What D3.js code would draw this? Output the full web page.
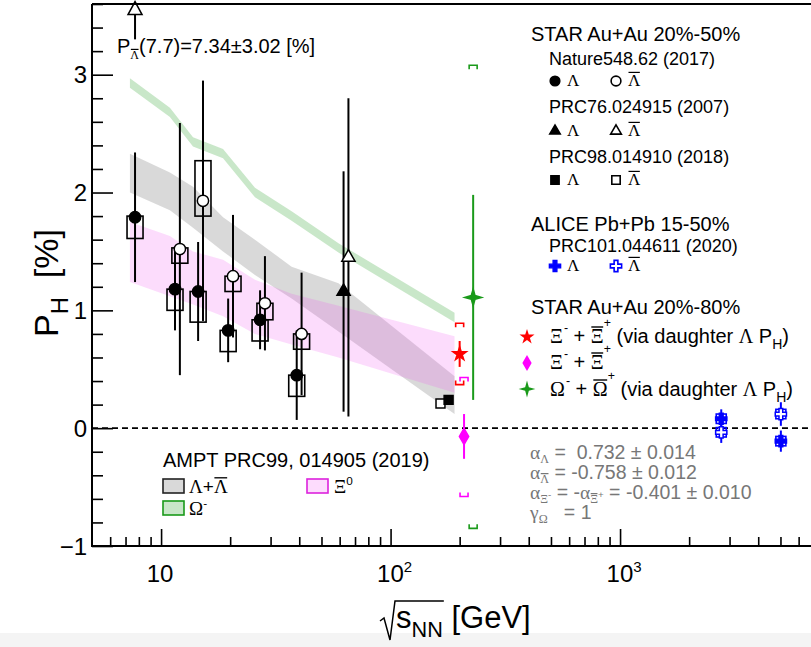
<!DOCTYPE html>
<html lang="en">
<head>
<meta charset="UTF-8">
<title>Hyperon global polarization</title>
<script src="https://cdn.jsdelivr.net/npm/d3@7"></script>
<style>
  body { margin: 0; background: #fff; }
  svg { display: block; font-family: "Liberation Sans", Arial, sans-serif; }
  text { white-space: pre; }
</style>
</head>
<body>
<svg id="chart" width="811" height="647"></svg>
<script>
// ---- data ----
// STAR Nature 548, 62 (2017), 20-50%
const natE = [7.7, 11.5, 14.5, 19.6, 27, 39]
const natLam = [1.79, 1.18, 1.16, 0.83, 0.92, 0.45]
const natLamErr = [0.55, 0.35, 0.42, 0.27, 0.25, 0.38]
const natLamSys = [[1.61, 1.80], [1.00, 1.18], [0.90, 1.16], [0.65, 0.83], [0.74, 0.92], [0.27, 0.45]]
const natBarE = [11.5, 14.5, 19.6, 27, 39]
const natBar = [1.52, 1.93, 1.29, 1.06, 0.80]
const natBarErr = [1.07, 1.02, 0.52, 0.40, 0.52]
const natBarSys = [[1.40, 1.53], [1.80, 2.27], [1.16, 1.29], [0.92, 1.06], [0.67, 0.80]]
// STAR PRC76 024915 (2007), 62.4 GeV
const prc76E = [62.4]
const prc76Lam = [1.16], prc76LamErr = [1.02]
const prc76Bar = [1.45], prc76BarErr = [1.35]
// STAR PRC98 014910 (2018), 200 GeV (drawn slightly left of 200)
const prc98LamE = [179], prc98Lam = [0.24], prc98LamErr = [0.02]
const prc98BarE = [165], prc98Bar = [0.21], prc98BarErr = [0.02]
// ALICE PRC101 044611 (2020)
const aliceE = [2760, 5020]
const aliceLam = [0.08, -0.11], aliceLamErr = [0.08, 0.09]
const aliceBar = [-0.035, 0.12], aliceBarErr = [0.09, 0.10]
const aliceSys = [0.04, 0.04]
// STAR 20-80% multistrange, 200 GeV
const xiE = [200], xi = [0.63], xiErr = [0.11], xiSys = [[0.37, 0.89]]
const xiDirE = [209], xiDir = [-0.07], xiDirErr = [0.19], xiDirSys = [[-0.58, 0.43]]
const omE = [229], om = [1.11], omErr = [0.87], omSys = [[-0.85, 3.08]]
// Lambda-bar 7.7 GeV, off scale
const bar77 = '7.34±3.02'
// AMPT bands
const amptE = [7.7, 11.5, 14.5, 19.6, 27, 39, 62.4, 200]
const amptLamLo = [2.00, 1.85, 1.70, 1.50, 1.30, 1.10, 0.82, 0.12]
const amptLamHi = [2.33, 2.17, 2.05, 1.79, 1.60, 1.37, 1.23, 0.44]
const amptXiLo = [1.24, 1.12, 1.05, 0.95, 0.80, 0.71, 0.60, 0.30]
const amptXiHi = [1.75, 1.63, 1.50, 1.43, 1.26, 1.14, 1.04, 0.78]
const amptOmLo = [2.89, 2.64, 2.39, 2.29, 1.96, 1.76, 1.49, 0.90]
const amptOmHi = [2.97, 2.72, 2.47, 2.37, 2.04, 1.84, 1.57, 0.98]

const xMajor = [10, 100, 1000]
const xMinor = [6, 7, 8, 9, 20, 30, 40, 50, 60, 70, 80, 90, 200, 300, 400, 500, 600, 700, 800, 900, 2000, 3000, 4000, 5000, 6000]
const yMajor = [-1, 0, 1, 2, 3]
const yMinor = d3.range(-0.8, 3.61, 0.2).filter(v => Math.abs(v - Math.round(v)) > 0.01)

// ---- setup ----
const svg = d3.select('#chart')
const x = d3.scaleLog().domain([5, 7000]).range([92, 814])
const y = d3.scaleLinear().domain([-1, 3.6]).range([546, 4])
const barShift = 1.05   // anti-lambda drawn a bit to the right
const bandShift = 0.95  // AMPT bands drawn a bit to the left
const serif = '"Liberation Serif", "DejaVu Serif", serif'

svg.append('rect').attr('x', 0).attr('y', 633).attr('width', 811).attr('height', 14).attr('fill', '#f4f4f4')

// rich text: parts are strings or {t, sub, sup, raise, bar, serif}
function rich(g, px, py, parts, size, fill = '#000', subDrop = 0.3) {
  const t = g.append('text').attr('x', px).attr('y', py).attr('font-size', size).attr('fill', fill)
    .attr('xml:space', 'preserve')
  let shift = 0, idx = 0
  const bars = []
  parts.forEach(p => {
    if (typeof p === 'string') p = { t: p }
    const small = p.sub || p.sup
    const fs = small ? size * (p.scale || 0.62) : size
    let target = p.sub ? size * subDrop : p.sup ? -size * 0.42 : 0
    if (p.raise !== undefined) target = -size * p.raise
    const ts = t.append('tspan').text(p.t).attr('dy', target - shift).attr('font-size', fs)
    if (p.serif) ts.attr('font-family', serif)
    if (p.dx) ts.attr('dx', p.dx)
    if (p.bar) bars.push({ i0: idx, n: p.t.length, base: py + target, fs })
    shift = target
    idx += p.t.length
  })
  bars.forEach(b => {
    const a = t.node().getExtentOfChar(b.i0)
    const z = t.node().getExtentOfChar(b.i0 + b.n - 1)
    g.append('line').attr('x1', a.x + 0.5).attr('x2', z.x + z.width - 0.5)
      .attr('y1', b.base - b.fs * 0.8).attr('y2', b.base - b.fs * 0.8)
      .attr('stroke', fill).attr('stroke-width', Math.max(1.2, b.fs * 0.07))
  })
  return t
}

const plot = svg.append('g')

// ---- AMPT bands ----
function band(lo, hi, fill) {
  const area = d3.area()
    .x((d, i) => x(amptE[i] * bandShift))
    .y0((d, i) => y(lo[i]))
    .y1((d, i) => y(hi[i]))
  plot.append('path').datum(amptE).attr('d', area).attr('fill', fill).attr('stroke', 'none')
}
band(amptOmLo, amptOmHi, 'rgba(60,170,60,0.28)')
band(amptLamLo, amptLamHi, 'rgba(110,110,110,0.26)')
band(amptXiLo, amptXiHi, 'rgba(240,80,240,0.2)')

// zero line
plot.append('line').attr('x1', 92).attr('x2', 811).attr('y1', y(0)).attr('y2', y(0))
  .attr('stroke', '#000').attr('stroke-width', 1.8).attr('stroke-dasharray', '6,4')

// ---- helpers ----
function errBars(E, V, Er, color, f = 1) {
  plot.selectAll(null).data(E).enter().append('line')
    .attr('x1', (d) => x(d * f)).attr('x2', d => x(d * f))
    .attr('y1', (d, i) => y(V[i] + Er[i])).attr('y2', (d, i) => y(V[i] - Er[i]))
    .attr('stroke', color).attr('stroke-width', 2)
}
function sysBoxes(E, S, color, f = 1, hw = 8) {
  plot.selectAll(null).data(E).enter().append('rect')
    .attr('x', d => x(d * f) - hw).attr('width', 2 * hw)
    .attr('y', (d, i) => y(S[i][1])).attr('height', (d, i) => y(S[i][0]) - y(S[i][1]))
    .attr('fill', 'none').attr('stroke', color).attr('stroke-width', 1.6)
}
function brackets(E, S, color) {
  E.forEach((e, i) => {
    const cx = x(e), yh = y(S[i][1]), yl = y(S[i][0])
    plot.append('path').attr('d', `M${cx - 4},${yh + 4}V${yh}H${cx + 4}V${yh + 4}M${cx - 4},${yl - 4}V${yl}H${cx + 4}V${yl - 4}`)
      .attr('fill', 'none').attr('stroke', color).attr('stroke-width', 1.6)
  })
}
function markers(g, E, V, type, size, fill, stroke, f = 1) {
  g.selectAll(null).data(E).enter().append('path')
    .attr('d', d3.symbol().type(type).size(size))
    .attr('transform', (d, i) => `translate(${x(d * f)},${y(V[i])})`)
    .attr('fill', fill).attr('stroke', stroke).attr('stroke-width', 1.5)
}
const star4 = {
  draw(ctx, size) {
    const r = Math.sqrt(size) * 0.8, q = r * 0.22
    ctx.moveTo(0, -r); ctx.lineTo(q, -q); ctx.lineTo(r, 0); ctx.lineTo(q, q)
    ctx.lineTo(0, r); ctx.lineTo(-q, q); ctx.lineTo(-r, 0); ctx.lineTo(-q, -q); ctx.closePath()
  }
}

// ---- STAR BES ----
errBars(natE, natLam, natLamErr, '#000')
errBars(natBarE, natBar, natBarErr, '#000', barShift)
sysBoxes(natE, natLamSys, '#000')
sysBoxes(natBarE, natBarSys, '#000', barShift)
markers(plot, natE, natLam, d3.symbolCircle, 100, '#000', '#000')
markers(plot, natBarE, natBar, d3.symbolCircle, 100, '#fff', '#000', barShift)

errBars(prc76E, prc76Lam, prc76LamErr, '#000')
errBars(prc76E, prc76Bar, prc76BarErr, '#000', barShift)
markers(plot, prc76E, prc76Lam, d3.symbolTriangle, 75, '#000', '#000')
markers(plot, prc76E, prc76Bar, d3.symbolTriangle, 75, '#fff', '#000', barShift)

errBars(prc98LamE, prc98Lam, prc98LamErr, '#000')
errBars(prc98BarE, prc98Bar, prc98BarErr, '#000')
markers(plot, prc98BarE, prc98Bar, d3.symbolSquare, 80, '#fff', '#000')
markers(plot, prc98LamE, prc98Lam, d3.symbolSquare, 80, '#000', '#000')

// anti-lambda 7.7 arrow (off scale)
const ax = x(natE[0])
plot.append('line').attr('x1', ax).attr('x2', ax).attr('y1', y(3.30)).attr('y2', y(3.51))
  .attr('stroke', '#000').attr('stroke-width', 2)
plot.append('path').attr('d', `M${ax - 7},${y(3.51)}L${ax + 7},${y(3.51)}L${ax},${y(3.51) - 13}Z`)
  .attr('fill', '#fff').attr('stroke', '#000').attr('stroke-width', 1.5)
rich(plot, 117, 53, ['P', { t: 'Λ', sub: true, bar: true, serif: true, scale: 0.6 }, '(7.7)=' + bar77 + ' [%]'], 20)

// ---- multistrange ----
errBars(omE, om, omErr, '#1a9a1a')
brackets(omE, omSys, '#1a9a1a')
markers(plot, omE, om, star4, 110, '#1a9a1a', '#1a9a1a')
errBars(xiDirE, xiDir, xiDirErr, '#ff00ff')
brackets(xiDirE, xiDirSys, '#ff00ff')
markers(plot, xiDirE, xiDir, d3.symbolDiamond, 75, '#ff00ff', '#ff00ff')
errBars(xiE, xi, xiErr, '#ff0000')
brackets(xiE, xiSys, '#ff0000')
markers(plot, xiE, xi, d3.symbolStar, 55, '#ff0000', '#ff0000')

// ---- ALICE ----
const aliceBox = (V) => V.map((v, i) => [v - aliceSys[i], v + aliceSys[i]])
errBars(aliceE, aliceLam, aliceLamErr, '#0000ff')
errBars(aliceE, aliceBar, aliceBarErr, '#0000ff')
sysBoxes(aliceE, aliceBox(aliceLam), '#0000ff', 1, 5)
sysBoxes(aliceE, aliceBox(aliceBar), '#0000ff', 1, 5)
markers(plot, aliceE, aliceLam, d3.symbolCross, 70, '#0000ff', '#0000ff')
markers(plot, aliceE, aliceBar, d3.symbolCross, 70, '#fff', '#0000ff')

// ---- axes ----
const axes = svg.append('g')
function xTicks(vals, len) {
  axes.append('g').attr('transform', `translate(0,${y(-1)})`)
    .call(d3.axisBottom(x).tickValues(vals).tickSize(-len).tickFormat(''))
    .call(g => g.select('.domain').remove())
    .call(g => g.selectAll('line').attr('stroke', '#000').attr('stroke-width', 1.6))
}
function yTicks(vals, len) {
  axes.append('g').attr('transform', 'translate(92,0)')
    .call(d3.axisLeft(y).tickValues(vals).tickSize(-len).tickFormat(''))
    .call(g => g.select('.domain').remove())
    .call(g => g.selectAll('line').attr('stroke', '#000').attr('stroke-width', 1.6))
}
xTicks(xMajor, 17); xTicks(xMinor, 9)
yTicks(yMajor, 21); yTicks(yMinor, 11)

axes.append('path').attr('d', `M92,${y(3.6)}H811M92,${y(3.6)}V${y(-1)}H811`)
  .attr('fill', 'none').attr('stroke', '#000').attr('stroke-width', 2)

yMajor.forEach(v => {
  axes.append('text').attr('x', 87).attr('y', y(v) + 8.5).attr('text-anchor', 'end')
    .attr('font-size', 24).text(v < 0 ? '\u2212' + Math.abs(v) : v)
})
xMajor.forEach(v => {
  const p = Math.round(Math.log10(v))
  const t = axes.append('text').attr('y', 582).attr('font-size', 24).attr('text-anchor', 'middle')
  if (p === 1) { t.attr('x', x(v) - 1).text('10') }
  else {
    t.attr('x', x(v) + 4)
    t.append('tspan').text('10')
    t.append('tspan').text(p).attr('font-size', 15).attr('dy', -10)
  }
})

// axis titles
const xt = rich(axes, 396, 628, ['s', { t: 'NN', sub: true, scale: 0.7 }, ' [GeV]'], 31)
const e1 = xt.node().getExtentOfChar(2)
axes.append('path').attr('d', `M380,621L384,618L390,640L395,601H${e1.x + e1.width + 1}`)
  .attr('fill', 'none').attr('stroke', '#000').attr('stroke-width', 1.5)

const yt = axes.append('g').attr('transform', 'translate(58,337) rotate(-90)')
rich(yt, 0, 0, ['P', { t: 'H', sub: true, scale: 0.7 }, '  [%]'], 34)

// ---- legends ----
const leg = svg.append('g')
rich(leg, 531, 41, ['STAR Au+Au 20%-50%'], 20)
rich(leg, 549, 65, ['Nature548.62 (2017)'], 18)
rich(leg, 549, 113, ['PRC76.024915 (2007)'], 18)
rich(leg, 549, 163, ['PRC98.014910 (2018)'], 18)
function legRow(yy, type, size, c) {
  leg.append('path').attr('d', d3.symbol().type(type).size(size)())
    .attr('transform', `translate(555,${yy - 5})`).attr('fill', c).attr('stroke', c).attr('stroke-width', 1.4)
  leg.append('path').attr('d', d3.symbol().type(type).size(size)())
    .attr('transform', `translate(616,${yy - 5})`).attr('fill', '#fff').attr('stroke', c).attr('stroke-width', 1.6)
  rich(leg, 567, yy, [{ t: 'Λ', serif: true }], 17)
  rich(leg, 628, yy, [{ t: 'Λ', serif: true, bar: true }], 17)
}
legRow(86, d3.symbolCircle, 75, '#000')
legRow(136, d3.symbolTriangle, 50, '#000')
legRow(185, d3.symbolSquare, 70, '#000')

rich(leg, 531, 231, ['ALICE Pb+Pb 15-50%'], 20)
rich(leg, 549, 252, ['PRC101.044611 (2020)'], 18)
legRow(271, d3.symbolCross, 70, '#0000ff')

rich(leg, 531, 314, ['STAR Au+Au 20%-80%'], 20)
const xiParts = [{ t: 'Ξ', serif: true }, { t: '-', sup: true, raise: 0.55, dx: 1 }, ' + ', { t: 'Ξ', serif: true, bar: true }, { t: '+', sup: true, raise: 0.78 }]
const viaParts = [' (via daughter ', { t: 'Λ', serif: true }, ' P', { t: 'H', sub: true, scale: 0.7 }, ')']
rich(leg, 550, 343, xiParts.concat(viaParts), 20)
rich(leg, 550, 369, xiParts, 20)
rich(leg, 550, 396, [{ t: 'Ω', serif: true }, { t: '-', sup: true, raise: 0.55, dx: 1 }, ' + ', { t: 'Ω', serif: true, bar: true }, { t: '+', sup: true, raise: 0.78 }].concat(viaParts), 20)
leg.append('path').attr('d', d3.symbol().type(d3.symbolStar).size(70)()).attr('transform', 'translate(527,337)').attr('fill', '#ff0000')
leg.append('path').attr('d', d3.symbol().type(d3.symbolDiamond).size(75)()).attr('transform', 'translate(527,363)').attr('fill', '#ff00ff')
leg.append('path').attr('d', d3.symbol().type(star4).size(110)()).attr('transform', 'translate(527,389)').attr('fill', '#1a9a1a')

// decay parameters
const gray = '#777'
rich(leg, 530, 459, [{ t: 'α', serif: true }, { t: 'Λ', sub: true, serif: true }, ' =  0.732 ± 0.014'], 19.5, gray, 0.22)
rich(leg, 530, 479, [{ t: 'α', serif: true }, { t: 'Λ', sub: true, serif: true, bar: true }, ' = -0.758 ± 0.012'], 19.5, gray, 0.22)
rich(leg, 530, 499, [{ t: 'α', serif: true }, { t: 'Ξ', sub: true, serif: true }, { t: '-', sup: true, raise: 0.05, scale: 0.5 }, ' = -', { t: 'α', serif: true }, { t: 'Ξ', sub: true, serif: true, bar: true }, { t: '+', sup: true, raise: 0.05, scale: 0.5 }, ' = -0.401 ± 0.010'], 19.5, gray, 0.22)
rich(leg, 530, 519, [{ t: 'γ', serif: true }, { t: 'Ω', sub: true, serif: true }, '   = 1'], 19.5, gray, 0.22)

// AMPT legend
rich(leg, 163, 467, ['AMPT PRC99, 014905 (2019)'], 20)
function legBox(bx, by, fill, stroke) {
  leg.append('rect').attr('x', bx).attr('y', by).attr('width', 21).attr('height', 14)
    .attr('fill', fill).attr('stroke', stroke).attr('stroke-width', 1.6)
}
legBox(163, 479, '#d9d9d9', '#222')
legBox(307, 479, '#fddcfd', '#dd22dd')
legBox(163, 501, '#c8e6c8', '#1a9a1a')
rich(leg, 189, 493, [{ t: 'Λ', serif: true }, '+', { t: 'Λ', serif: true, bar: true }], 19)
rich(leg, 334, 493, [{ t: 'Ξ', serif: true }, { t: '0', sup: true }], 19)
rich(leg, 189, 515, [{ t: 'Ω', serif: true }, { t: '-', sup: true }], 19)
</script>
</body>
</html>
